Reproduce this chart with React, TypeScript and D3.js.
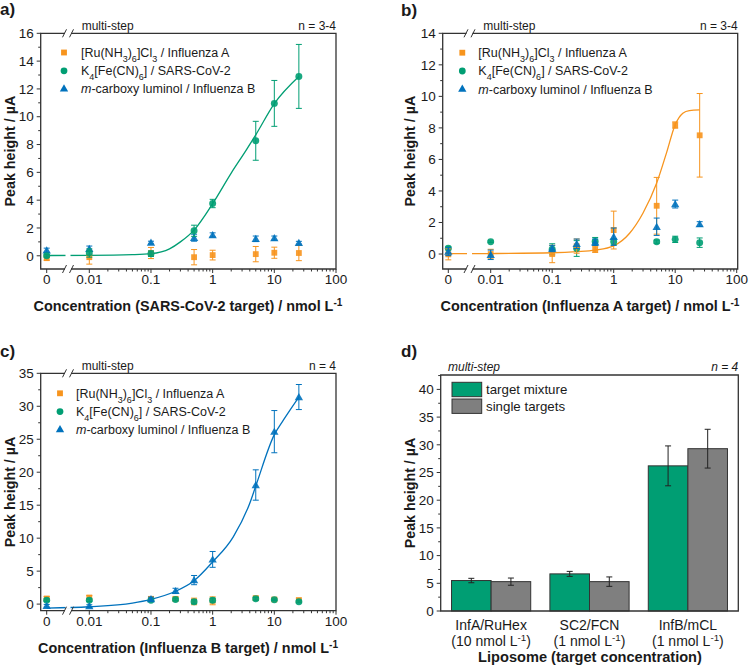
import React from "react";
import * as d3 from "d3";

const FONT = "'Liberation Sans', Arial, Helvetica, sans-serif";
const ORANGE = "#f7941d";
const GREEN = "#009e73";
const BLUE = "#0072bd";
const GRAY = "#7f7f7f";
const AXIS = "#333333";

// ---- panel a: SARS-CoV-2 target ----
const concA = [0, 0.01, 0.1, 0.5, 1, 5, 10, 25];
const aInfA = [-0.17, -0.1, 0.2, -0.1, 0.05, 0.12, 0.22, 0.2];
const aInfAErr = [0.15, 0.5, 0.4, 0.55, 0.35, 0.55, 0.4, 0.55];
const aSC2 = [0.0, 0.2, 0.15, 1.8, 3.76, 8.27, 10.96, 12.9];
const aSC2Err = [0.1, 0.3, 0.2, 0.4, 0.3, 1.4, 1.65, 2.3];
const aInfB = [0.4, 0.5, 0.95, 1.3, 1.5, 1.22, 1.27, 0.94];
const aInfBErr = [0.15, 0.2, 0.1, 0.25, 0.15, 0.2, 0.15, 0.1];
const aFitConc = [0, 0.01, 0.05, 0.1, 0.2, 0.3, 0.5, 1, 2, 3.5, 5, 10, 25];
const aFitVal = [0.02, 0.03, 0.08, 0.15, 0.5, 1.0, 1.85, 3.75, 5.95, 7.6, 8.7, 10.95, 12.9];

// ---- panel b: Influenza A target ----
const concB = [0, 0.01, 0.1, 0.25, 0.5, 1, 5, 10, 25];
const bInfA = [-0.02, 0.0, 0.0, 0.5, 0.3, 1.52, 3.06, 8.18, 7.53];
const bInfAErr = [0.35, 0.3, 0.55, 0.45, 0.2, 1.2, 1.8, 0.2, 2.65];
const bSC2 = [0.36, 0.78, 0.3, 0.35, 0.8, 0.78, 0.78, 0.93, 0.72];
const bSC2Err = [0.1, 0.05, 0.35, 0.5, 0.25, 0.2, 0.1, 0.2, 0.3];
const bInfB = [0.15, -0.05, 0.35, 0.65, 0.75, 1.1, 1.73, 3.17, 1.9];
const bInfBErr = [0.25, 0.3, 0.2, 0.3, 0.2, 0.55, 0.55, 0.25, 0.15];
const bFitConc = [0, 0.01, 0.1, 0.25, 0.5, 1, 1.8, 3, 5, 7.2, 10, 13.3, 17, 25];
const bFitVal = [0.02, 0.03, 0.08, 0.15, 0.25, 0.52, 1.3, 2.6, 4.5, 6.4, 8.2, 8.93, 9.1, 9.14];

// ---- panel c: Influenza B target ----
const concC = [0, 0.01, 0.1, 0.25, 0.5, 1, 5, 10, 25];
const cInfA = [0.85, 1.0, 0.8, 0.8, 0.4, 0.5, 0.9, 0.7, 0.6];
const cInfAErr = [0.3, 0.3, 0.3, 0.3, 0.5, 0.6, 0.3, 0.2, 0.3];
const cSC2 = [0.6, 0.6, 0.6, 0.7, 0.35, 0.6, 0.8, 0.65, 0.35];
const cSC2Err = [0.2, 0.2, 0.2, 0.2, 0.3, 0.3, 0.2, 0.1, 0.15];
const cInfB = [-0.25, -0.3, 0.76, 2.0, 3.64, 6.78, 18.06, 26.15, 31.4];
const cInfBErr = [0.2, 0.2, 0.3, 0.4, 0.7, 1.2, 2.3, 3.2, 1.9];
const cFitConc = [0, 0.01, 0.05, 0.1, 0.25, 0.5, 1, 2.16, 4, 5, 10, 14, 25];
const cFitVal = [-0.6, -0.4, 0.15, 0.72, 1.95, 3.55, 6.4, 10.2, 15.3, 17.9, 25.7, 27.9, 31.4];

// ---- panel d: liposome mixture vs single targets ----
const liposomes = ["InfA/RuHex", "SC2/FCN", "InfB/mCL"];
const liposomeConc = ["10", "1", "1"];
const mixture = [5.5, 6.7, 26.2];
const mixtureErr = [0.4, 0.45, 3.6];
const single = [5.3, 5.3, 29.3];
const singleErr = [0.65, 0.85, 3.5];

const sub = (t: string) => (
  <tspan baselineShift="sub" fontSize="0.72em">{t}</tspan>
);
const sup = (t: string) => (
  <tspan baselineShift="super" fontSize="0.7em">{t}</tspan>
);

const legendItems = [
  { color: ORANGE, shape: d3.symbolSquare, size: 34, label: <>[Ru(NH{sub("3")}){sub("6")}]Cl{sub("3")} / Influenza A</> },
  { color: GREEN, shape: d3.symbolCircle, size: 36, label: <>K{sub("4")}[Fe(CN){sub("6")}] / SARS-CoV-2</> },
  { color: BLUE, shape: d3.symbolTriangle, size: 30, label: <><tspan fontStyle="italic">m</tspan>-carboxy luminol / Influenza B</> },
];

function zip(c: number[], v: number[]) {
  return c.map((d, i) => [d, v[i]] as [number, number]);
}

function ConcPanel({ cfg }: { cfg: any }) {
  const { left, right, top, bottom } = cfg;
  const y = d3.scaleLinear().domain(cfg.yDomain).range([bottom, top]);
  const xl = d3.scaleLog().domain([0.01, 100]).range([cfg.x001, cfg.x100]);
  const xp = (c: number) => (c === 0 ? cfg.x0 : xl(c));
  const brk = (cfg.x0 + cfg.x001) / 2;

  const yMajor = d3.range(0, cfg.yDomain[1] + 1e-6, cfg.yStep);
  const yMinor = d3.range(cfg.yStep / 2, cfg.yDomain[1], cfg.yStep);
  const xMajor = [0.01, 0.1, 1, 10, 100];
  const xMinor: number[] = [];
  [-2, -1, 0, 1].forEach((k) => d3.range(2, 10).forEach((m) => xMinor.push(m * Math.pow(10, k))));

  const line = d3
    .line<[number, number]>()
    .x((d) => xp(d[0]))
    .y((d) => y(d[1]))
    .curve(d3.curveMonotoneX);

  const cy = (top + bottom) / 2;

  return (
    <g>
      <text x={cfg.labelX} y={cfg.labelY} fontSize={17} fontWeight="bold">{cfg.label}</text>
      <text x={cfg.x0 + 35} y={top - 3.5} fontSize={12}>multi-step</text>
      <text x={right} y={top - 3.5} fontSize={12} textAnchor="end">{cfg.nText}</text>

      {/* fit curve */}
      <path d={line(zip(cfg.fit.conc, cfg.fit.val)) || ""} fill="none" stroke={cfg.fit.color} strokeWidth={1.3} />
      <rect x={brk - 2.5} y={top + 2} width={5} height={bottom - top - 4} fill="white" />

      {/* data */}
      {cfg.series.map((s: any, si: number) => (
        <g key={si} stroke={s.color} fill={s.color}>
          {s.conc.map((c: number, i: number) => {
            const px = xp(c);
            const y1 = y(s.val[i] + s.err[i]);
            const y2 = y(s.val[i] - s.err[i]);
            return (
              <g key={i}>
                <line x1={px} x2={px} y1={y1} y2={y2} strokeWidth={1} />
                <line x1={px - 3} x2={px + 3} y1={y1} y2={y1} strokeWidth={1} />
                <line x1={px - 3} x2={px + 3} y1={y2} y2={y2} strokeWidth={1} />
                <path
                  d={d3.symbol().type(s.shape).size(s.size)() || ""}
                  transform={`translate(${px},${y(s.val[i]) + (s.shape === d3.symbolTriangle ? 0.8 : 0)})`}
                  stroke="none"
                  fillOpacity={0.9}
                />
              </g>
            );
          })}
        </g>
      ))}

      {/* frame */}
      <path d={`M${left},${top}H${right}V${bottom}H${left}Z`} fill="none" stroke={AXIS} strokeWidth={1.3} />
      {/* axis break */}
      {[top, bottom].map((yy, i) => (
        <g key={i}>
          <rect x={brk - 3} y={yy - 2} width={6} height={4} fill="white" />
          <line x1={brk - 5.5} y1={yy + 4} x2={brk - 1.5} y2={yy - 4} stroke={AXIS} strokeWidth={1} />
          <line x1={brk + 1.5} y1={yy + 4} x2={brk + 5.5} y2={yy - 4} stroke={AXIS} strokeWidth={1} />
        </g>
      ))}

      {/* y axis */}
      {yMajor.map((v) => (
        <g key={"ym" + v}>
          <line x1={left - 4} x2={left} y1={y(v)} y2={y(v)} stroke={AXIS} />
          <text x={left - 7} y={y(v)} dy="0.35em" textAnchor="end" fontSize={13.5}>{v}</text>
        </g>
      ))}
      {yMinor.map((v) => (
        <line key={"yn" + v} x1={left - 2.5} x2={left} y1={y(v)} y2={y(v)} stroke={AXIS} />
      ))}
      <text transform={`translate(${cfg.yTitleX},${cy}) rotate(-90)`} textAnchor="middle" fontSize={14.3} fontWeight="bold">
        Peak height / µA
      </text>

      {/* x axis */}
      {[0, ...xMajor].map((v) => (
        <g key={"xm" + v}>
          <line x1={xp(v)} x2={xp(v)} y1={bottom} y2={bottom + 4} stroke={AXIS} />
          <text x={xp(v)} y={bottom + 15} textAnchor="middle" fontSize={13.5}>{String(v)}</text>
        </g>
      ))}
      {xMinor.map((v) => (
        <line key={"xn" + v} x1={xl(v)} x2={xl(v)} y1={bottom} y2={bottom + 2.5} stroke={AXIS} />
      ))}
      <text x={cfg.xTitleX} y={cfg.xTitleY} textAnchor="middle" fontSize={14.4} fontWeight="bold">
        Concentration ({cfg.target} target) / nmol L{sup("-1")}
      </text>

      {/* legend */}
      {legendItems.map((it, i) => (
        <g key={i} transform={`translate(0,${cfg.legendY + i * 18.3})`}>
          <path
            d={d3.symbol().type(it.shape).size(it.size)() || ""}
            transform={`translate(${cfg.legendMarkX},0)`}
            fill={it.color}
          />
          <text x={cfg.legendTextX} y={0} dy="0.35em" fontSize={12.5}>{it.label}</text>
        </g>
      ))}
    </g>
  );
}

const panelA = {
  label: "a)", labelX: 0, labelY: 15,
  left: 40.7, right: 336, top: 33.3, bottom: 269,
  yDomain: [-0.95, 16], yStep: 2,
  x0: 46.7, x001: 89.3, x100: 336,
  target: "SARS-CoV-2", nText: "n = 3-4",
  yTitleX: 15, xTitleX: 188, xTitleY: 311,
  legendMarkX: 64, legendTextX: 81, legendY: 52.5,
  fit: { conc: aFitConc, val: aFitVal, color: GREEN },
  series: [
    { conc: concA, val: aInfA, err: aInfAErr, color: ORANGE, shape: d3.symbolSquare, size: 34 },
    { conc: concA, val: aInfB, err: aInfBErr, color: BLUE, shape: d3.symbolTriangle, size: 30 },
    { conc: concA, val: aSC2, err: aSC2Err, color: GREEN, shape: d3.symbolCircle, size: 38 },
  ],
};

const panelB = {
  label: "b)", labelX: 401, labelY: 16,
  left: 442.7, right: 737.7, top: 33.3, bottom: 269,
  yDomain: [-0.95, 14], yStep: 2,
  x0: 448.3, x001: 490.7, x100: 736.7,
  target: "Influenza A", nText: "n = 3-4",
  yTitleX: 415, xTitleX: 590, xTitleY: 311,
  legendMarkX: 462.3, legendTextX: 478.3, legendY: 52.7,
  fit: { conc: bFitConc, val: bFitVal, color: ORANGE },
  series: [
    { conc: concB, val: bSC2, err: bSC2Err, color: GREEN, shape: d3.symbolCircle, size: 38 },
    { conc: concB, val: bInfA, err: bInfAErr, color: ORANGE, shape: d3.symbolSquare, size: 34 },
    { conc: concB, val: bInfB, err: bInfBErr, color: BLUE, shape: d3.symbolTriangle, size: 30 },
  ],
};

const panelC = {
  label: "c)", labelX: 0, labelY: 357,
  left: 40.7, right: 336, top: 373.3, bottom: 610.7,
  yDomain: [-1, 35], yStep: 5,
  x0: 46.7, x001: 89.3, x100: 336,
  target: "Influenza B", nText: "n = 4",
  yTitleX: 15, xTitleX: 188, xTitleY: 652.5,
  legendMarkX: 60, legendTextX: 76, legendY: 393.3,
  fit: { conc: cFitConc, val: cFitVal, color: BLUE },
  series: [
    { conc: concC, val: cInfA, err: cInfAErr, color: ORANGE, shape: d3.symbolSquare, size: 34 },
    { conc: concC, val: cSC2, err: cSC2Err, color: GREEN, shape: d3.symbolCircle, size: 38 },
    { conc: concC, val: cInfB, err: cInfBErr, color: BLUE, shape: d3.symbolTriangle, size: 30 },
  ],
};

function BarPanel() {
  const left = 440.7, right = 738.3, top = 375, bottom = 611;
  const y = d3.scaleLinear().domain([0, 42.6]).range([bottom, top]);
  const x = d3.scaleBand().domain(liposomes).range([left, right]).paddingInner(0.195).paddingOuter(0.11);
  const half = x.bandwidth() / 2;
  const yMajor = d3.range(0, 41, 5);
  const yMinor = d3.range(2.5, 42.6, 5);

  const errBar = (cx: number, v: number, e: number, k: string) => (
    <g key={k} stroke="#222" strokeWidth={1}>
      <line x1={cx} x2={cx} y1={y(v + e)} y2={y(v - e)} />
      <line x1={cx - 3} x2={cx + 3} y1={y(v + e)} y2={y(v + e)} />
      <line x1={cx - 3} x2={cx + 3} y1={y(v - e)} y2={y(v - e)} />
    </g>
  );

  return (
    <g>
      <text x={401} y={357} fontSize={17} fontWeight="bold">d)</text>
      <text x={448} y={371} fontSize={12} fontStyle="italic">multi-step</text>
      <text x={right} y={371} fontSize={12} fontStyle="italic" textAnchor="end">n = 4</text>

      {liposomes.map((c, i) => {
        const x0 = x(c) as number;
        return (
          <g key={c}>
            <rect x={x0} y={y(mixture[i])} width={half} height={bottom - y(mixture[i])} fill={GREEN} stroke={AXIS} strokeWidth={1} />
            <rect x={x0 + half} y={y(single[i])} width={half} height={bottom - y(single[i])} fill={GRAY} stroke={AXIS} strokeWidth={1} />
            {errBar(x0 + half / 2, mixture[i], mixtureErr[i], "m" + i)}
            {errBar(x0 + half * 1.5, single[i], singleErr[i], "s" + i)}
            <text x={x0 + half} y={629.5} textAnchor="middle" fontSize={14}>{c}</text>
            <text x={x0 + half} y={645.5} textAnchor="middle" fontSize={14}>
              ({liposomeConc[i]} nmol L{sup("-1")})
            </text>
          </g>
        );
      })}

      <path d={`M${left},${top}H${right}V${bottom}H${left}Z`} fill="none" stroke={AXIS} strokeWidth={1.3} />
      {yMajor.map((v) => (
        <g key={"m" + v}>
          <line x1={left - 4} x2={left} y1={y(v)} y2={y(v)} stroke={AXIS} />
          <text x={left - 7} y={y(v)} dy="0.35em" textAnchor="end" fontSize={13.5}>{v}</text>
        </g>
      ))}
      {yMinor.map((v) => (
        <line key={"n" + v} x1={left - 2.5} x2={left} y1={y(v)} y2={y(v)} stroke={AXIS} />
      ))}
      <text transform={`translate(415,${(top + bottom) / 2}) rotate(-90)`} textAnchor="middle" fontSize={14.3} fontWeight="bold">
        Peak height / µA
      </text>
      <text x={590} y={661.5} textAnchor="middle" fontSize={14.6} fontWeight="bold">
        Liposome (target concentration)
      </text>

      {/* legend */}
      <rect x={452} y={382.3} width={29.7} height={14.4} fill={GREEN} stroke={AXIS} strokeWidth={1} />
      <text x={486} y={389.5} dy="0.35em" fontSize={13.3}>target mixture</text>
      <rect x={452} y={399} width={29.7} height={14.4} fill={GRAY} stroke={AXIS} strokeWidth={1} />
      <text x={486} y={406.2} dy="0.35em" fontSize={13.3}>single targets</text>
    </g>
  );
}

export default function App() {
  return (
    <svg
      width={749}
      height={666}
      style={{ position: "absolute", left: 0, top: 0, background: "white" }}
      fontFamily={FONT}
      fill="#1a1a1a"
    >
      <rect width={749} height={666} fill="white" />
      <ConcPanel cfg={panelA} />
      <ConcPanel cfg={panelB} />
      <ConcPanel cfg={panelC} />
      <BarPanel />
    </svg>
  );
}
